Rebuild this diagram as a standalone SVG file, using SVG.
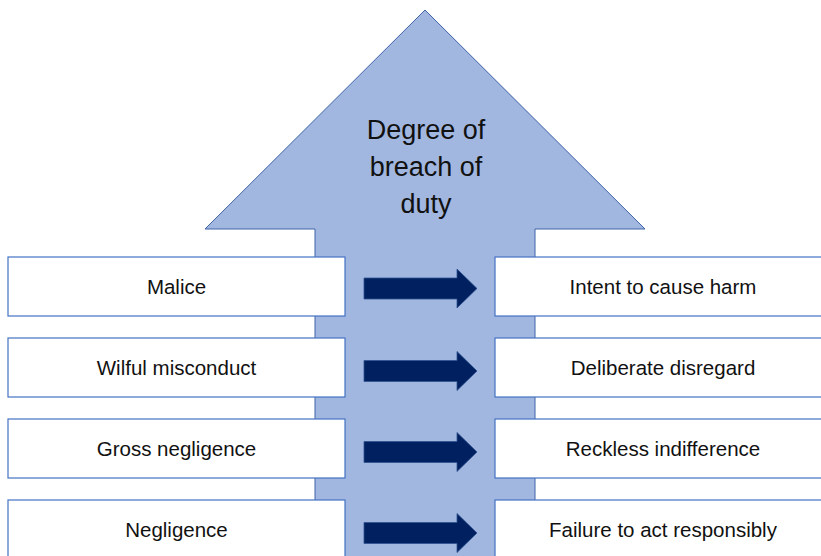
<svg xmlns="http://www.w3.org/2000/svg" width="821" height="556" viewBox="0 0 821 556">
<style>
.box{fill:#ffffff;stroke:#4472C4;stroke-width:1.2}
.lbl{font-family:"Liberation Sans",Arial,sans-serif;font-size:20.5px;fill:#111;text-anchor:middle}
.ttl{font-family:"Liberation Sans",Arial,sans-serif;font-size:27px;fill:#111;text-anchor:middle}
.sa{fill:#002060;stroke:#2F528F;stroke-width:0.8}
</style>
<rect width="821" height="556" fill="#ffffff"/>
<g id="big-arrow">
<polygon points="425,10 645,229 535,229 535,560 315,560 315,229 205,229" fill="#A1B7E0" stroke="#3F63A8" stroke-width="1"/>
<text class="ttl" x="426" y="139">Degree of</text>
<text class="ttl" x="426" y="176">breach of</text>
<text class="ttl" x="426" y="213">duty</text>
</g>
<g id="left-malice"><rect class="box" x="8" y="257" width="337" height="59"/><text class="lbl" x="176.5" y="293.5">Malice</text></g>
<g id="left-wilful"><rect class="box" x="8" y="338" width="337" height="59"/><text class="lbl" x="176.5" y="374.5">Wilful misconduct</text></g>
<g id="left-gross"><rect class="box" x="8" y="419" width="337" height="59"/><text class="lbl" x="176.5" y="455.5">Gross negligence</text></g>
<g id="left-negligence"><rect class="box" x="8" y="500" width="337" height="59"/><text class="lbl" x="176.5" y="536.5">Negligence</text></g>
<g id="right-intent"><rect class="box" x="495" y="257" width="337" height="59"/><text class="lbl" x="663" y="293.5">Intent to cause harm</text></g>
<g id="right-deliberate"><rect class="box" x="495" y="338" width="337" height="59"/><text class="lbl" x="663" y="374.5">Deliberate disregard</text></g>
<g id="right-reckless"><rect class="box" x="495" y="419" width="337" height="59"/><text class="lbl" x="663" y="455.5">Reckless indifference</text></g>
<g id="right-failure"><rect class="box" x="495" y="500" width="337" height="59"/><text class="lbl" x="663" y="536.5">Failure to act responsibly</text></g>
<g id="connectors">
<polygon class="sa" points="364,278 457,278 457,269 477,288.5 457,308 457,299 364,299"/>
<polygon class="sa" points="364,360.5 457,360.5 457,351.5 477,371 457,390.5 457,381.5 364,381.5"/>
<polygon class="sa" points="364,441.5 457,441.5 457,432.5 477,452 457,471.5 457,462.5 364,462.5"/>
<polygon class="sa" points="364,522.5 457,522.5 457,513.5 477,533 457,552.5 457,543.5 364,543.5"/>
</g>
</svg>
